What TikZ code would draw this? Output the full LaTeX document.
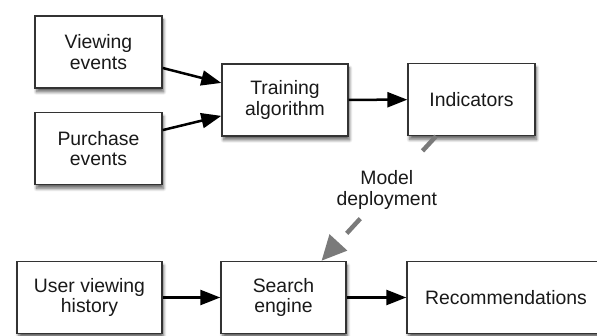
\documentclass[tikz,border=0pt]{standalone}
\usepackage{fontspec}
\setmainfont{Liberation Sans}
\usepackage{tikz}
\usetikzlibrary{positioning, arrows.meta, calc, shadows.blur}

\tikzset{
    box/.style={draw=black!80, line width=1.4pt, fill=white, align=center,
        minimum height=72pt, inner sep=0pt, text=black!90,
        font=\fontsize{19.4}{20.5}\selectfont,
        blur shadow={shadow xshift=1.5pt, shadow yshift=-4pt,
            shadow blur radius=3pt, shadow blur steps=8, shadow opacity=60}},
    flow/.style={black, line width=2.5pt, -{Triangle[length=20pt, width=15pt]}},
    deploy/.style={black!52, line width=4.5pt, dash pattern=on 20pt off 36pt,
        -{Triangle[length=25pt, width=23pt]}},
}

\begin{document}
\begin{tikzpicture}[x=1pt, y=-1pt]
    \useasboundingbox (0,0) rectangle (597,336);

    \coordinate (PV) at (98.5,52);
    \coordinate (PP) at (98.5,148.5);
    \coordinate (PT) at (285,100);
    \coordinate (PI) at (471.5,99.5);

    \coordinate (PU) at (89.5,297.5);
    \coordinate (PS) at (283.5,297.5);
    \coordinate (PR) at (506,297.5);

    % boxes
    \foreach \point/\name/\bw/\txt in {
        PV/view/127/{Viewing\\events},
        PP/purch/127/{Purchase\\events},
        PT/train/126/{Training\\algorithm},
        PI/ind/127/{Indicators},
        PU/user/145/{User viewing\\history},
        PS/search/125/{Search\\engine},
        PR/rec/198/{Recommendations}}
    {
        \node[box, minimum width=\bw pt] (\name) at (\point) {\txt};
    }

    % data flow
    \foreach \src/\dst in {
        view.-14/train.165,
        purch.16/train.194,
        train/ind,
        user/search,
        search/rec}
    {
        \draw[flow] (\src) -- (\dst);
    }

    % model deployment
    \draw[deploy] (ind.226) -- (search.44)
        node[pos=0.43, fill=white, inner sep=6pt, align=center, text=black!90,
            font=\fontsize{19.4}{20.5}\selectfont] (deptext) {Model\\deployment};
\end{tikzpicture}
\end{document}
